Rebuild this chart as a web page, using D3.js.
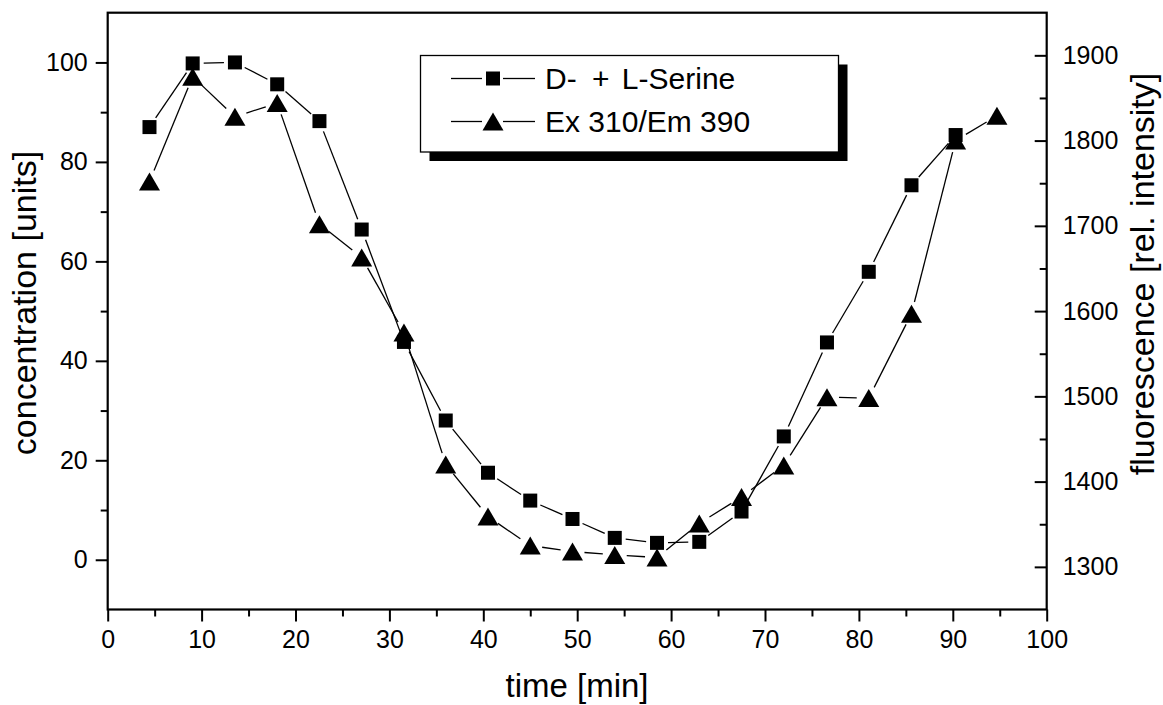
<!DOCTYPE html>
<html>
<head>
<meta charset="utf-8">
<script src="https://cdn.jsdelivr.net/npm/d3@7/dist/d3.min.js"></script>
<style>
  html, body { margin: 0; padding: 0; background: #fff; }
  svg { display: block; font-family: "Liberation Sans", Arial, Helvetica, sans-serif; }
</style>
</head>
<body>
<svg id="chart" width="1163" height="705"></svg>
<script>
// ---- data ----
const time = [4.45, 9.05, 13.55, 18.05, 22.55, 27.05, 31.55, 36.0, 40.5, 45.0, 49.5,
              54.0, 58.5, 63.0, 67.5, 72.0, 76.6, 81.05, 85.6, 90.3, 94.7];
// D- + L-Serine, concentration [units] (left axis), squares
const serine = [87.0, 99.8, 100.0, 95.6, 88.2, 66.4, 43.8, 28.0, 17.5, 11.9, 8.2,
                4.4, 3.4, 3.6, 9.7, 24.8, 43.7, 57.9, 75.3, 85.4];
// Ex 310/Em 390, fluorescence [rel. intensity] (right axis), triangles
const fluor = [1752, 1875, 1828, 1844, 1702, 1663, 1575, 1420, 1359, 1325, 1318,
               1314, 1311, 1351, 1382, 1419, 1499, 1498, 1597, 1800, 1829];

const xMajor = [0, 10, 20, 30, 40, 50, 60, 70, 80, 90, 100];
const xMinor = [5, 15, 25, 35, 45, 55, 65, 75, 85, 95];
const yLeftMajor = [0, 20, 40, 60, 80, 100];
const yLeftMinor = [10, 30, 50, 70, 90];
const yRightMajor = [1300, 1400, 1500, 1600, 1700, 1800, 1900];
const yRightMinor = [1350, 1450, 1550, 1650, 1750, 1850];
const seriesNames = ["D- + L-Serine", "Ex 310/Em 390"];

// ---- layout ----
const svg = d3.select("#chart");
const L = 107.7, R = 1046.7, T = 12.7, B = 609.5;

const x = d3.scaleLinear().domain([0, 100]).range([L, R]);
const yL = d3.scaleLinear().domain([-10, 110]).range([B, T]);
const yR = d3.scaleLinear().domain([1250, 1950]).range([B, T]);

const tickFont = 25;

function styleAxis(g) {
  g.select(".domain").remove();
  g.selectAll(".tick line").attr("stroke", "#000").attr("stroke-width", 2);
  g.selectAll(".tick text").attr("fill", "#000").attr("font-size", tickFont)
    .attr("font-family", "Liberation Sans, Arial, sans-serif");
}

// bottom axis
svg.append("g").attr("transform", `translate(0,${B})`)
  .call(d3.axisBottom(x).tickValues(xMajor).tickSize(12).tickPadding(9).tickFormat(d3.format("d")))
  .call(styleAxis);
svg.append("g").attr("transform", `translate(0,${B})`)
  .call(d3.axisBottom(x).tickValues(xMinor).tickSize(7).tickFormat(""))
  .call(styleAxis);

// left axis
svg.append("g").attr("transform", `translate(${L},0)`)
  .call(d3.axisLeft(yL).tickValues(yLeftMajor).tickSize(12).tickPadding(8).tickFormat(d3.format("d")))
  .call(styleAxis);
svg.append("g").attr("transform", `translate(${L},0)`)
  .call(d3.axisLeft(yL).tickValues(yLeftMinor).tickSize(7).tickFormat(""))
  .call(styleAxis);

// right axis (ticks pointing inward)
svg.append("g").attr("transform", `translate(${R},0)`)
  .call(d3.axisRight(yR).tickValues(yRightMajor).tickSizeInner(-12).tickSizeOuter(0).tickPadding(16).tickFormat(d3.format("d")))
  .call(styleAxis);
svg.append("g").attr("transform", `translate(${R},0)`)
  .call(d3.axisRight(yR).tickValues(yRightMinor).tickSizeInner(-7).tickSizeOuter(0).tickFormat(""))
  .call(styleAxis);

// frame
svg.append("rect").attr("x", L).attr("y", T).attr("width", R - L).attr("height", B - T)
  .attr("fill", "none").attr("stroke", "#000").attr("stroke-width", 2.2);

// ---- series ----
const sqPts = serine.map((v, i) => [x(time[i]), yL(v)]);
const trPts = fluor.map((v, i) => [x(time[i]), yR(v)]);

function drawSegments(pts, gap) {
  const g = svg.append("g");
  for (let i = 0; i < pts.length - 1; i++) {
    const [x1, y1] = pts[i], [x2, y2] = pts[i + 1];
    const dx = x2 - x1, dy = y2 - y1, len = Math.hypot(dx, dy);
    if (len <= 2 * gap) continue;
    const ux = dx / len, uy = dy / len;
    g.append("line")
      .attr("x1", x1 + ux * gap).attr("y1", y1 + uy * gap)
      .attr("x2", x2 - ux * gap).attr("y2", y2 - uy * gap)
      .attr("stroke", "#000").attr("stroke-width", 1.3);
  }
}
drawSegments(sqPts, 11);
drawSegments(trPts, 12);

const SQ = 14, TW = 21, TH = 18;
function triPath(cx, cy) {
  return `M${cx},${cy - TH / 2}L${cx + TW / 2},${cy + TH / 2}L${cx - TW / 2},${cy + TH / 2}Z`;
}
svg.append("g").selectAll("rect").data(sqPts).join("rect")
  .attr("x", d => d[0] - SQ / 2).attr("y", d => d[1] - SQ / 2)
  .attr("width", SQ).attr("height", SQ).attr("fill", "#000");
svg.append("g").selectAll("path").data(trPts).join("path")
  .attr("d", d => triPath(d[0], d[1])).attr("fill", "#000");

// ---- legend ----
const lg = svg.append("g");
const lx = 420.5, ly = 55.5, lw = 418, lh = 96.5;
lg.append("rect").attr("x", lx + 9).attr("y", ly + 9).attr("width", lw).attr("height", lh).attr("fill", "#000");
lg.append("rect").attr("x", lx).attr("y", ly).attr("width", lw).attr("height", lh)
  .attr("fill", "#fff").attr("stroke", "#000").attr("stroke-width", 1.3);
const rows = [ly + 23, ly + 66];
rows.forEach((ry, i) => {
  lg.append("line").attr("x1", 451).attr("x2", 482).attr("y1", ry).attr("y2", ry).attr("stroke", "#000").attr("stroke-width", 1.3);
  lg.append("line").attr("x1", 503).attr("x2", 535).attr("y1", ry).attr("y2", ry).attr("stroke", "#000").attr("stroke-width", 1.3);
  if (i === 0) {
    lg.append("rect").attr("x", 493 - 7).attr("y", ry - 7).attr("width", 14).attr("height", 14).attr("fill", "#000");
  } else {
    lg.append("path").attr("d", triPath(493, ry)).attr("fill", "#000");
  }
  const t = lg.append("text").attr("x", 545).attr("y", ry).attr("dy", "0.36em")
    .attr("font-size", 30).attr("fill", "#000");
  if (i === 0) {
    // the reference sets slightly wider gaps around the "+"
    const parts = seriesNames[0].split(" "); // ["D-", "+", "L-Serine"]
    t.append("tspan").text(parts[0] + " ");
    t.append("tspan").attr("dx", 7).text(parts[1] + " ");
    t.append("tspan").attr("dx", 4).text(parts[2]);
  } else {
    t.text(seriesNames[i]);
  }
});

// ---- axis titles ----
svg.append("text").attr("x", 577).attr("y", 697).attr("text-anchor", "middle")
  .attr("font-size", 33).attr("fill", "#000").text("time [min]");
svg.append("text").attr("transform", "translate(36,303) rotate(-90)").attr("text-anchor", "middle")
  .attr("font-size", 34).attr("fill", "#000").text("concentration [units]");
svg.append("text").attr("transform", "translate(1154,274) rotate(-90)").attr("text-anchor", "middle")
  .attr("font-size", 34).attr("fill", "#000").text("fluorescence [rel. intensity]");
</script>
</body>
</html>
